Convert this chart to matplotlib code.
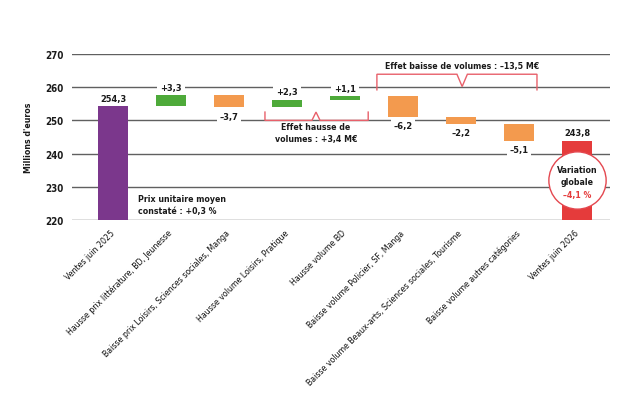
import numpy as np
import matplotlib
matplotlib.use('Agg')
import matplotlib.pyplot as plt

plt.rcParams['font.family'] = ['Liberation Sans Narrow', 'DejaVu Sans']
plt.rcParams['font.stretch'] = 'condensed'

# data
categories = ['Ventes juin 2025',
              'Hausse prix littérature, BD, Jeunesse',
              'Baisse prix Loisirs, Sciences sociales, Manga',
              'Hausse volume Loisirs, Pratique',
              'Hausse volume BD',
              'Baisse volume Policier, SF, Manga',
              'Baisse volume Beaux-arts, Sciences sociales, Tourisme',
              'Baisse volume autres catégories',
              'Ventes juin 2026']
start_value = 254.3
steps = [3.3, -3.7, 2.3, 1.1, -6.2, -2.2, -5.1]
end_value = 243.8
value_labels = ['254,3', '+3,3', '\u20133,7', '+2,3', '+1,1', '\u20136,2', '\u20132,2', '\u20135,1', '243,8']
yticks = [220, 230, 240, 250, 260, 270]

PURPLE = '#7B378C'
GREEN = '#4EAA3A'
ORANGE = '#F39A4E'
RED = '#E53B3B'
PINK = '#E8606A'
TEXT = '#1a1a1a'
FS = 6.3

fig = plt.figure(figsize=(6.44, 4.14), dpi=100)
ax = fig.add_axes([0.1118, 0.4662, 0.8354, 0.401])

x = np.arange(len(categories))
cum = start_value + np.cumsum(steps)
prev = np.concatenate([[start_value], cum[:-1]])
step_bottoms = np.minimum(prev, cum)
step_heights = np.abs(steps)
step_colors = [GREEN if s > 0 else ORANGE for s in steps]

ymin = yticks[0]
w = 0.52
ax.bar(x[0], start_value - ymin, bottom=ymin, width=w, color=PURPLE, zorder=3)
ax.bar(x[1:-1], step_heights, bottom=step_bottoms, width=w, color=step_colors, zorder=3)
ax.bar(x[-1], end_value - ymin, bottom=ymin, width=w, color=RED, zorder=3)

for yv in yticks:
    ax.axhline(yv, color='#606060', lw=1.0, zorder=1)

# value labels
tops = np.concatenate([[start_value], np.maximum(prev, cum), [end_value]])
bots = np.concatenate([[ymin], step_bottoms, [ymin]])
signs = [1] + [1 if s > 0 else -1 for s in steps] + [1]
for xi, top, bot, sg, lab in zip(x, tops, bots, signs, value_labels):
    if sg > 0:
        ax.annotate(lab, (xi, top), xytext=(0, 2.5), textcoords='offset points',
                    ha='center', va='bottom', fontsize=FS + 0.4, fontweight='bold', color=TEXT,
                    bbox=dict(boxstyle='square,pad=0.3', fc='white', ec='none'), zorder=4)
    else:
        ax.annotate(lab, (xi, bot), xytext=(0, -3), textcoords='offset points',
                    ha='center', va='top', fontsize=FS + 0.4, fontweight='bold', color=TEXT,
                    bbox=dict(boxstyle='square,pad=0.3', fc='white', ec='none'), zorder=4)


def bracket(x0, x1, xm, base, tip, notch_tip, notch_w):
    xs = [x0, x0, xm - notch_w, xm, xm + notch_w, x1, x1]
    ys = [tip, base, base, notch_tip, base, base, tip]
    ax.plot(xs, ys, color=PINK, lw=1.0, zorder=5, solid_joinstyle='miter')


# volume effect brackets
bracket(x[3] - 0.38, x[4] + 0.40, 3.5, 250, 252.5, 252.5, 0.07)
ax.text(3.5, 246.4, 'Effet hausse de\nvolumes : +3,4 M\u20ac', ha='center', va='center',
        fontsize=FS, fontweight='bold', color=TEXT, linespacing=1.45, zorder=5)
bracket(x[5] - 0.45, x[7] + 0.31, 6.02, 263.9, 259.2, 260.2, 0.09)
ax.text(6.02, 266.4, 'Effet baisse de volumes : \u201313,5 M\u20ac', ha='center', va='center',
        fontsize=FS, fontweight='bold', color=TEXT, zorder=5)

ax.text(0.43, 224.7, 'Prix unitaire moyen\nconstaté : +0,3 %', ha='left', va='center',
        fontsize=FS, fontweight='bold', color=TEXT, linespacing=1.5, zorder=5)

# global variation circle
ax.scatter([x[-1]], [231.9], s=1700, facecolor='white', edgecolor='#E4474F', lw=1.0, zorder=6)
ax.text(x[-1], 233.4, 'Variation\nglobale', ha='center', va='center', fontsize=FS,
        fontweight='bold', color=TEXT, linespacing=1.45, zorder=7)
ax.text(x[-1], 227.6, '\u20134,1 %', ha='center', va='center', fontsize=FS,
        fontweight='bold', color=RED, zorder=7)

ax.set_xlim(-0.707, 8.569)
ax.set_ylim(220, 270)
ax.set_yticks(yticks)
ax.set_yticklabels([str(v) for v in yticks], fontsize=7, fontweight='bold', color=TEXT)
ax.set_xticks(x)
ax.set_xticklabels(categories, rotation=45, ha='right', va='center', rotation_mode='anchor',
                   fontsize=FS, color='#111111')
ax.tick_params(axis='both', length=0)
ax.tick_params(axis='x', pad=8)
ax.tick_params(axis='y', pad=6)
ax.set_ylabel("Millions d'euros", fontsize=6.3, fontweight='bold', color=TEXT, labelpad=9)
for sp in ax.spines.values():
    sp.set_visible(False)

fig.savefig('out.png', dpi=100)
